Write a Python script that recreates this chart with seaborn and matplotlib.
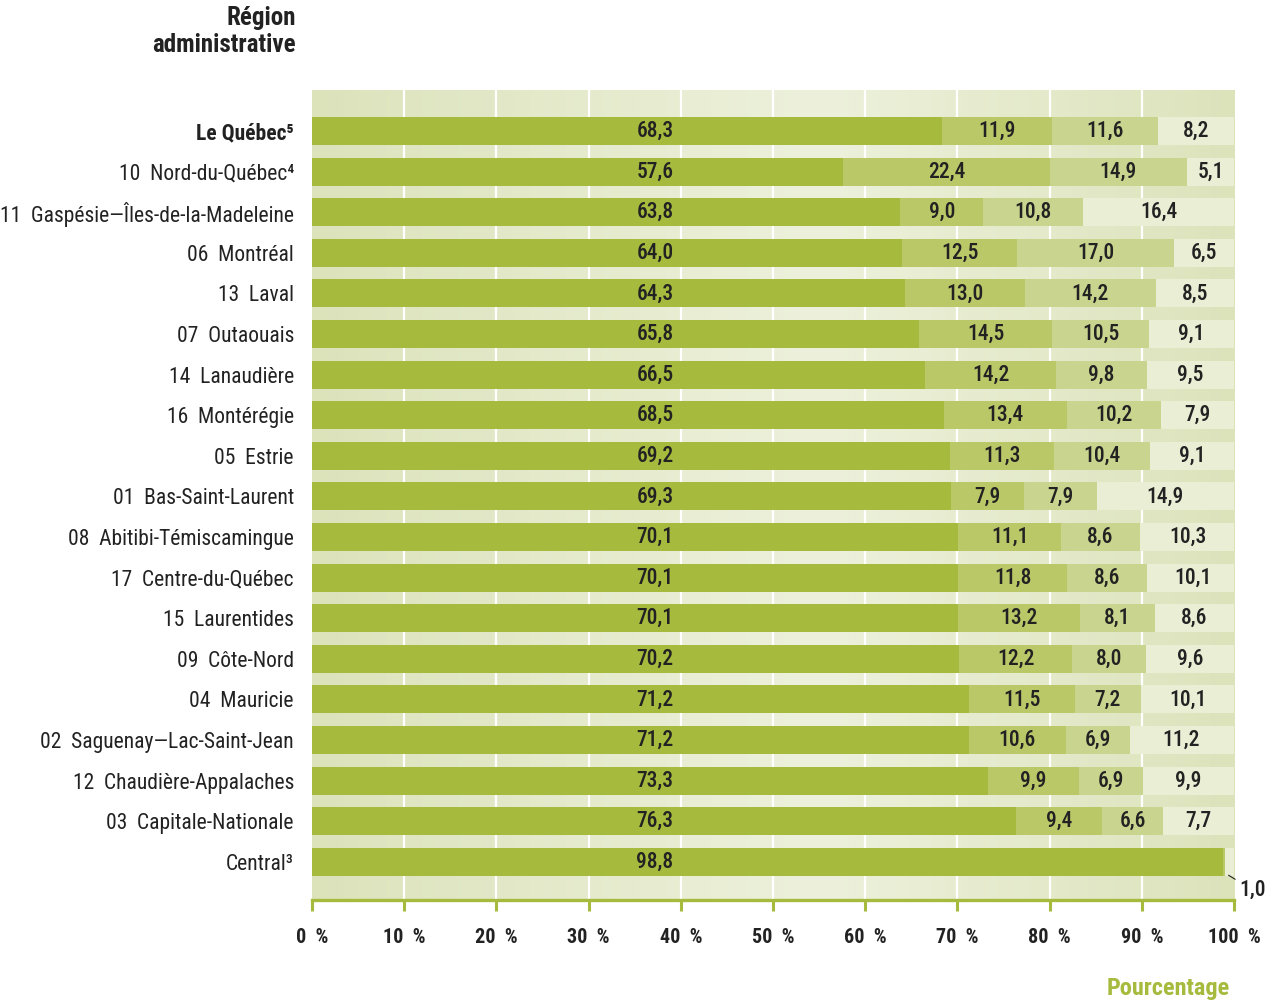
import numpy as np
import pandas as pd
import matplotlib.pyplot as plt
import seaborn as sns
from matplotlib.colors import to_rgb

# Data (percentages, 4 stacked segments per region)
regions = [
    "Le Québec⁵", "10  Nord-du-Québec⁴", "11  Gaspésie—Îles-de-la-Madeleine",
    "06  Montréal", "13  Laval", "07  Outaouais", "14  Lanaudière",
    "16  Montérégie", "05  Estrie", "01  Bas-Saint-Laurent",
    "08  Abitibi-Témiscamingue", "17  Centre-du-Québec", "15  Laurentides",
    "09  Côte-Nord", "04  Mauricie", "02  Saguenay—Lac-Saint-Jean",
    "12  Chaudière-Appalaches", "03  Capitale-Nationale", "Central³",
]
seg1 = [68.3, 57.6, 63.8, 64.0, 64.3, 65.8, 66.5, 68.5, 69.2, 69.3,
        70.1, 70.1, 70.1, 70.2, 71.2, 71.2, 73.3, 76.3, 98.8]
seg2 = [11.9, 22.4, 9.0, 12.5, 13.0, 14.5, 14.2, 13.4, 11.3, 7.9,
        11.1, 11.8, 13.2, 12.2, 11.5, 10.6, 9.9, 9.4, 0.2]
seg3 = [11.6, 14.9, 10.8, 17.0, 14.2, 10.5, 9.8, 10.2, 10.4, 7.9,
        8.6, 8.6, 8.1, 8.0, 7.2, 6.9, 6.9, 6.6, 0.0]
seg4 = [8.2, 5.1, 16.4, 6.5, 8.5, 9.1, 9.5, 7.9, 9.1, 14.9,
        10.3, 10.1, 8.6, 9.6, 10.1, 11.2, 9.9, 7.7, 1.0]
xticks = [0, 10, 20, 30, 40, 50, 60, 70, 80, 90, 100]

df = pd.DataFrame({"region": regions, "s1": seg1, "s2": seg2, "s3": seg3, "s4": seg4})
df["c2"] = df["s1"] + df["s2"]
df["c3"] = df["c2"] + df["s3"]
df["c4"] = 100.0

colors = ["#a6bb3e", "#bac868", "#c9d58e", "#e9eed4"]
green = "#a6bb3e"
txt = "#222222"

sns.set_theme(style="white")
plt.rcParams["font.family"] = ["Roboto Condensed", "DejaVu Sans"]

fig = plt.figure(figsize=(12.69, 10.01), dpi=100)
ax = fig.add_axes([0.2459, 0.1009, 0.7266, 0.8092])

n = len(regions)
ytop, ybot = -1.01, n - 1 + 0.94

# background gradient, darker at the edges, lighter around the middle
xs = np.linspace(0, 100, 400)
c_edge = np.array(to_rgb("#dce3bb"))
c_mid = np.array(to_rgb("#edf1dc"))
w = np.interp(xs, [0, 55, 100], [0, 1, 0])
grad = c_edge[None, :] * (1 - w[:, None]) + c_mid[None, :] * w[:, None]
ax.imshow(grad[None, :, :], extent=(0, 100, ybot, ytop), aspect="auto", zorder=0)
for x in xticks[1:-1]:
    ax.axvline(x, color="white", lw=1.6, zorder=1)

# stacked bars drawn from the widest cumulative to the narrowest
for col, c in zip(["c4", "c3", "c2", "s1"], colors[::-1]):
    sns.barplot(data=df, x=col, y="region", orient="h", color=c, saturation=1,
                width=0.69, linewidth=0, ax=ax, zorder=2)

def fmt(v):
    return f"{v:.1f}".replace(".", ",")

kw = dict(ha="center", va="center", fontsize=15.5, fontweight="medium", color=txt, zorder=3)
for i, row in df.iterrows():
    ax.text(37.2, i, fmt(row.s1), **kw)
    if row.region == "Central³":
        continue
    ax.text(row.s1 + row.s2 / 2, i, fmt(row.s2), **kw)
    ax.text(row.c2 + row.s3 / 2, i, fmt(row.s3), **kw)
    ax.text(row.c3 + row.s4 / 2, i, fmt(row.s4), **kw)

# small leader for the 1,0 of Central
ax.annotate("1,0", xy=(99.4, n - 1 + 0.33), xytext=(100.6, n - 1 + 0.7),
            fontsize=15.5, fontweight="medium", color=txt, ha="left", va="center",
            annotation_clip=False,
            arrowprops=dict(arrowstyle="-", color=txt, lw=0.8, shrinkA=1, shrinkB=0))

ax.set_xlim(0, 100)
ax.set_ylim(ybot, ytop)
ax.set_xticks(xticks)
ax.set_xticklabels([f"{t}  %" for t in xticks], fontsize=14.5, fontweight="bold", color=txt)
ax.set_xlabel("")
ax.set_ylabel("")
ax.tick_params(axis="x", direction="out", length=8, width=2.2, color=green, pad=12, bottom=True)
ax.tick_params(axis="y", length=0, pad=13, labelsize=15.5, labelcolor=txt)
for lab in ax.get_yticklabels():
    if lab.get_text() == "Le Québec⁵":
        lab.set_fontweight("bold")

for s in ["top", "right", "left"]:
    ax.spines[s].set_visible(False)
ax.spines["bottom"].set_color(green)
ax.spines["bottom"].set_linewidth(2.4)
ax.spines["bottom"].set_zorder(4)

fig.text(296 / 1269, 1 - 6 / 1001, "Région\nadministrative", ha="right", va="top",
         fontsize=18, fontweight="bold", color=txt, linespacing=1.15)
fig.text(1230 / 1269, 1 - 989 / 1001, "Pourcentage", ha="right", va="center",
         fontsize=17.5, fontweight="bold", color=green)

fig.savefig("out.png", dpi=100)
